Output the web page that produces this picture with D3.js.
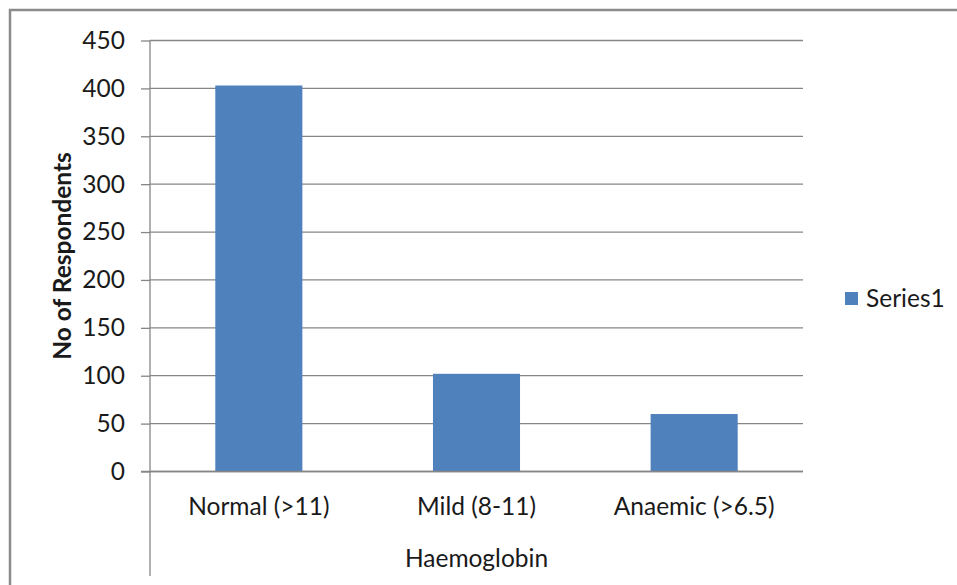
<!DOCTYPE html>
<html><head><meta charset="utf-8">
<script src="https://cdn.jsdelivr.net/npm/d3@7"></script>
<style>html,body{margin:0;padding:0;background:#fff;}</style>
</head><body>
<svg id="c" width="957" height="585"></svg>
<script>
const categories = ["Normal (>11)", "Mild (8-11)", "Anaemic (>6.5)"];
const values = [403, 102, 60];
const yTicks = [0, 50, 100, 150, 200, 250, 300, 350, 400, 450];
const seriesName = "Series1";
const xTitle = "Haemoglobin";
const yTitle = "No of Respondents";

const font = "Lato, 'Open Sans', sans-serif";
const fs = 24.5;
const svg = d3.select("#c");
const L = 150, R = 803, T = 40.5, B = 471.5;

// outer border
svg.append("rect").attr("x", 10).attr("y", 10).attr("width", 960).attr("height", 600)
  .attr("fill", "none").attr("stroke", "#8c8c8c").attr("stroke-width", 2.5);

const x = d3.scaleBand().domain(categories).range([L, R]).paddingInner(0.6).paddingOuter(0.3);
const y = d3.scaleLinear().domain([0, 450]).range([B, T]);

// gridlines + ticks
const yAxis = d3.axisLeft(y).tickValues(yTicks).tickSize(9).tickPadding(16);
const ga = svg.append("g").attr("transform", `translate(${L},0)`).call(yAxis);
ga.select(".domain").remove();
ga.selectAll(".tick line").attr("stroke", "#868686").attr("stroke-width", 1.3);
ga.selectAll(".tick text").attr("font-family", font).attr("font-size", fs).attr("fill", "#1a1a1a");
svg.append("g").selectAll("line").data(yTicks).join("line")
  .attr("x1", L).attr("x2", R).attr("y1", d => y(d)).attr("y2", d => y(d))
  .attr("stroke", "#868686").attr("stroke-width", 1.3);

// left axis line extends into category area
svg.append("line").attr("x1", L).attr("x2", L).attr("y1", T).attr("y2", 576)
  .attr("stroke", "#868686").attr("stroke-width", 1.3);

// bars
svg.append("g").selectAll("rect").data(values).join("rect")
  .attr("x", (d, i) => x(categories[i])).attr("width", x.bandwidth())
  .attr("y", d => y(d)).attr("height", d => y(0) - y(d))
  .attr("fill", "#4f81bd");
// redraw baseline on top
svg.append("line").attr("x1", L - 9).attr("x2", R).attr("y1", y(0)).attr("y2", y(0))
  .attr("stroke", "#868686").attr("stroke-width", 1.3);

// category labels
const xAxis = d3.axisBottom(x).tickSize(0).tickPadding(26);
const gx = svg.append("g").attr("transform", `translate(0,${B})`).call(xAxis);
gx.select(".domain").remove();
gx.selectAll(".tick text").attr("font-family", font).attr("font-size", fs).attr("fill", "#1a1a1a");

// x title
svg.append("text").attr("x", (L + R) / 2).attr("y", 567).attr("text-anchor", "middle")
  .attr("font-family", font).attr("font-size", fs).attr("fill", "#1a1a1a").text(xTitle);

// y title
svg.append("text").attr("transform", `translate(71,${(T + B) / 2}) rotate(-90)`)
  .attr("text-anchor", "middle").attr("font-family", font).attr("font-weight", "bold")
  .attr("font-size", fs).attr("fill", "#1a1a1a").text(yTitle);

// legend
const lg = svg.append("g").attr("transform", "translate(845,292)");
lg.append("rect").attr("width", 13).attr("height", 13).attr("fill", "#4f81bd");
lg.append("text").attr("x", 21).attr("y", 15).attr("font-family", font).attr("font-size", fs)
  .attr("fill", "#1a1a1a").text(seriesName);
</script>
</body></html>
